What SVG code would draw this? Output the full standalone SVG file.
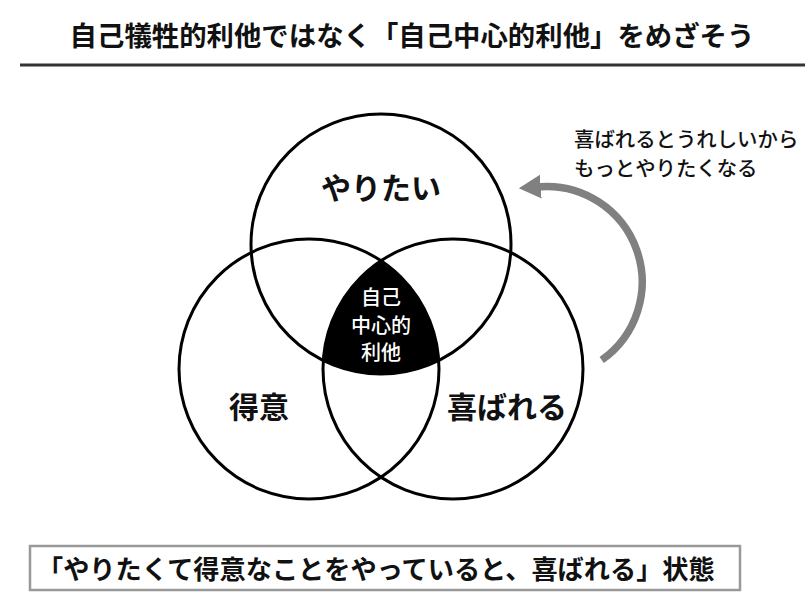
<svg xmlns="http://www.w3.org/2000/svg" width="812" height="601" viewBox="0 0 812 601">
  <style>
    text { font-family: "Noto Sans CJK JP", "Noto Sans CJK SC", sans-serif; fill: #111; }
    .title { font-size: 27.4px; font-weight: bold; }
    .label { font-size: 30px; font-weight: bold; text-anchor: middle; }
    .center { font-size: 20px; font-weight: 500; text-anchor: middle; fill: #fff; }
    .note { font-size: 20.4px; font-weight: 500; }
    .bottom { font-size: 26.2px; font-weight: bold; }
    .circle { fill: none; stroke: #000; stroke-width: 3; }
  </style>
  <defs>
    <marker id="arrowhead" markerUnits="userSpaceOnUse" markerWidth="24" markerHeight="26" viewBox="0 -13 24 26" refX="1" refY="0" orient="auto">
      <path d="M0,-12 L22,0 L0,12 Z" fill="#808080"/>
    </marker>
  </defs>
  <rect width="812" height="601" fill="#fff"/>

  <g id="title">
    <text class="title" x="412" y="46" text-anchor="middle">自己犠牲的利他ではなく「自己中心的利他」をめざそう</text>
    <line x1="20" y1="65" x2="805" y2="65" stroke="#333" stroke-width="3"/>
  </g>

  <g id="core">
    <path d="M381,260.8 A130,130 0 0,0 323.3,360.5 A130,130 0 0,0 438.7,360.5 A130,130 0 0,0 381,260.8 Z" fill="#000"/>
    <text class="center" x="381" y="305">自己</text>
    <text class="center" x="381" y="333">中心的</text>
    <text class="center" x="381" y="360">利他</text>
  </g>

  <g id="yaritai">
    <circle class="circle" cx="381" cy="244" r="130"/>
    <text class="label" x="381" y="199">やりたい</text>
  </g>

  <g id="tokui">
    <circle class="circle" cx="309" cy="369" r="130"/>
    <text class="label" x="259" y="418">得意</text>
  </g>

  <g id="yorokobareru">
    <circle class="circle" cx="453" cy="369" r="130"/>
    <text class="label" x="507" y="418">喜ばれる</text>
  </g>

  <g id="connectors">
    <path d="M601.7,360 A95.5,95.5 0 0,0 539.8,186.7" fill="none" stroke="#808080" stroke-width="7.5" marker-end="url(#arrowhead)"/>
  </g>

  <g id="note">
    <text class="note" x="574" y="147">喜ばれるとうれしいから</text>
    <text class="note" x="574" y="176">もっとやりたくなる</text>
  </g>

  <g id="summary">
    <rect x="30" y="546" width="710" height="44" fill="#fff" stroke="#999" stroke-width="2.5"/>
    <text class="bottom" x="37" y="579">「やりたくて得意なことをやっていると、喜ばれる」状態</text>
  </g>
</svg>
